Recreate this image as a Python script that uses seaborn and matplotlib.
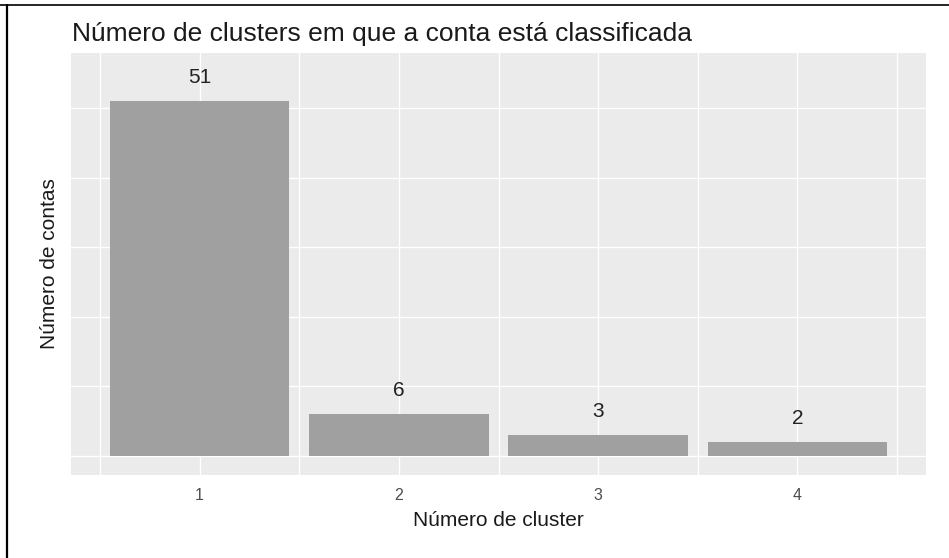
import matplotlib
matplotlib.use("Agg")
import matplotlib.pyplot as plt
from matplotlib.lines import Line2D
import numpy as np
import pandas as pd
import seaborn as sns

# ─── Data ────────────────────────────────────────────────────────────────────
clusters = [1, 2, 3, 4]
contas = [51, 6, 3, 2]
titulo = "Número de clusters em que a conta está classificada"
xlab = "Número de cluster"
ylab = "Número de contas"

df = pd.DataFrame({"cluster": clusters, "contas": contas})

# ─── Figure ──────────────────────────────────────────────────────────────────
sns.set_theme(style="darkgrid")
plt.rcParams["font.family"] = ["Liberation Sans", "DejaVu Sans"]

W, H = 949, 558
fig = plt.figure(figsize=(W / 100, H / 100), dpi=100, facecolor="white")
ax = fig.add_axes([71 / W, 1 - 475 / H, (926 - 71) / W, (475 - 53) / H])
ax.set_facecolor("#EBEBEB")

sns.barplot(data=df, x="cluster", y="contas", native_scale=True, width=0.9,
            color="#A0A0A0", saturation=1, edgecolor="none", linewidth=0,
            ax=ax, zorder=3)

for x, v in zip(clusters, contas):
    ax.text(x, v + 3.4, str(v), ha="center", va="center",
            fontsize=15, color="#222222", zorder=4)

ax.set_xlim(0.355, 4.645)
ax.set_ylim(-2.76, 57.96)
ax.set_xticks(clusters)
ax.set_xticklabels([str(c) for c in clusters], fontsize=11.5, color="#4D4D4D")
ax.set_xticks(np.arange(0.5, 5.0, 1.0), minor=True)
ax.set_yticks(np.arange(0, 51, 10))
ax.set_yticklabels([])
ax.tick_params(axis="both", which="both", length=0, pad=9)

ax.grid(False)
ax.grid(which="major", color="white", lw=1.0, zorder=0)
ax.grid(which="minor", axis="x", color="white", lw=1.0, zorder=0)
ax.set_axisbelow(True)
for s in ax.spines.values():
    s.set_visible(False)

ax.set_xlabel("")
ax.set_ylabel("")
fig.text(72 / W, 1 - 41 / H, titulo, fontsize=19, color="#1A1A1A",
         ha="left", va="baseline")
fig.text((71 + 926) / 2 / W, 1 - 521 / H, xlab, fontsize=15, color="#1A1A1A",
         ha="center", va="center")
fig.text(50 / W, 1 - 264 / H, ylab, fontsize=15, color="#1A1A1A",
         ha="center", va="center", rotation=90)

# screenshot frame
fig.add_artist(Line2D([0, 1], [1 - 5 / H, 1 - 5 / H], color="black", lw=1.2,
                      transform=fig.transFigure))
fig.add_artist(Line2D([7 / W, 7 / W], [0, 1 - 5 / H], color="black", lw=1.6,
                      transform=fig.transFigure))

fig.savefig("out.png", dpi=100, facecolor="white")
